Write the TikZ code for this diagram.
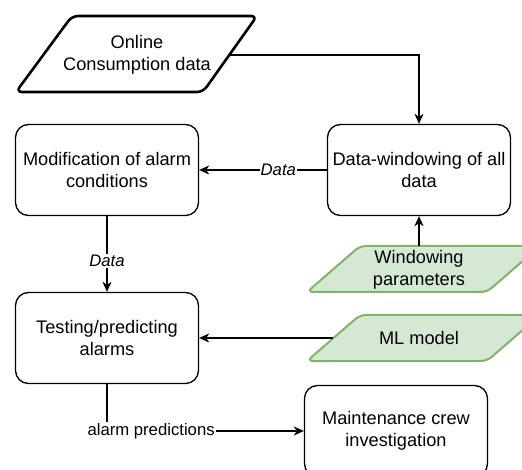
\documentclass[tikz,border=0pt]{standalone}
\usepackage{fontspec}
\setmainfont{Liberation Sans}
\usetikzlibrary{arrows.meta}
\definecolor{gfill}{HTML}{D5E8D4}
\definecolor{gdraw}{HTML}{82B366}
\begin{document}
\begin{tikzpicture}[x=1pt,y=-1pt,
  box/.style={draw, line width=1.3pt, rounded corners=13pt, minimum width=183pt, minimum height=91pt, align=center, font=\fontsize{18.2}{21.9}\selectfont, inner sep=0pt},
  txt/.style={align=center, font=\fontsize{18.2}{21.9}\selectfont, inner sep=0pt},
  lbl/.style={fill=white, font=\fontsize{16.7}{20}\selectfont, inner sep=1pt},
  ilbl/.style={lbl, font=\fontsize{16.7}{20}\selectfont\itshape},
  arr/.style={-{Stealth[length=10pt,width=9pt,inset=3pt]}, line width=1.3pt},
  paraB/.style={draw, line width=2.6pt, rounded corners=6pt, line join=round},
  paraG/.style={draw=gdraw, fill=gfill, line width=2pt, rounded corners=6pt, line join=round}]
\useasboundingbox (0,0) rectangle (522,470);

% boxes
\node[box] (mod) at (107,170) {Modification of alarm\\conditions};
\node[box] (dw) at (419,170) {Data-windowing of all\\data};
\node[box] (test) at (107,338) {Testing/predicting\\alarms};
\node[box] (maint) at (396,431) {Maintenance crew\\investigation};

% parallelograms
\draw[paraB] (72,16) -- (257,16) -- (203,92) -- (16,92) -- cycle;
\node[txt] (online) at (137,55) {Online\\Consumption data};
\coordinate (online-e) at (230,55);

\draw[paraG] (360,246) -- (540,246) -- (487,292) -- (307,292) -- cycle;
\node[txt] (wp) at (419,269.5) {Windowing\\parameters};
\coordinate (wp-top) at (419,246);

\draw[paraG] (360,315) -- (540,315) -- (487,361) -- (307,361) -- cycle;
\node[txt] (ml) at (419,338) {ML model};
\coordinate (ml-w) at (333,338);

% connectors
\draw[arr] (online-e) -| (dw.north);
\draw[arr] (dw.west) -- node[ilbl, pos=0.38] {Data} (mod.east);
\draw[arr] (mod.south) -- node[ilbl, pos=0.59] {Data} (test.north);
\draw[arr] (wp-top) -- (dw.south);
\draw[arr] (ml-w) -- (test.east);
\draw[arr] (test.south) |- node[lbl, pos=0.612] {alarm predictions} (maint.west);
\end{tikzpicture}
\end{document}
